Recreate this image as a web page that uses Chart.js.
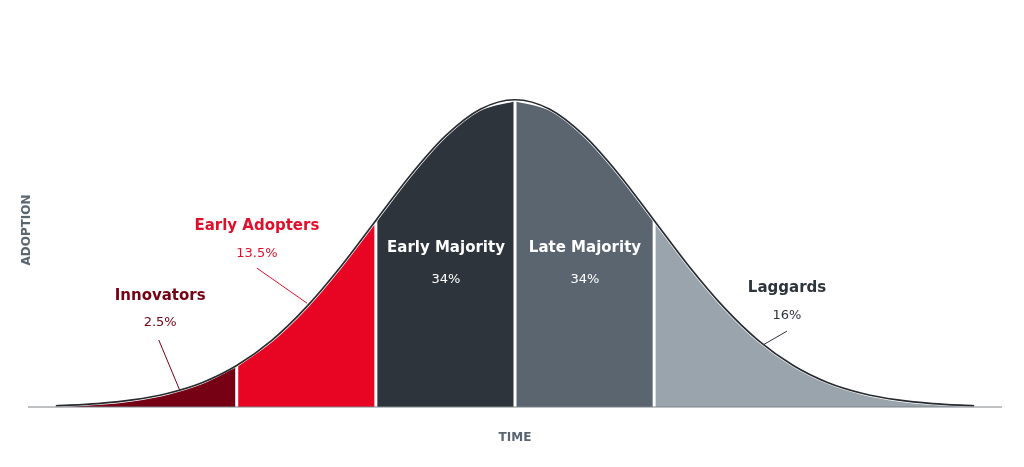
<!DOCTYPE html>
<html>
<head>
<meta charset="utf-8">
<script src="https://cdn.jsdelivr.net/npm/chart.js@4/dist/chart.umd.min.js"></script>
<style>
  html, body { margin: 0; padding: 0; background: #fff; }
  #wrap { width: 1024px; height: 467px; position: relative; }
</style>
</head>
<body>
<div id="wrap"><canvas id="curve"></canvas></div>
<script>
// curve: x in std deviations from the peak, y = relative adoption
const timeSteps = [-3.3, -3, -2.75, -2.5, -2.25, -2, -1.75, -1.5, -1.25, -1, -0.75, -0.5, -0.25, 0,
                   0.25, 0.5, 0.75, 1, 1.25, 1.5, 1.75, 2, 2.25, 2.5, 2.75, 3, 3.3];
const adoption = [0.4, 1.1, 2.3, 4.4, 7.9, 13.5, 21.6, 32.5, 45.8, 60.7, 75.5, 88.2, 96.9, 100,
                  96.9, 88.2, 75.5, 60.7, 45.8, 32.5, 21.6, 13.5, 7.9, 4.4, 2.3, 1.1, 0.4];

const segmentNames = ['Innovators', 'Early Adopters', 'Early Majority', 'Late Majority', 'Laggards'];
const segmentShares = ['2.5%', '13.5%', '34%', '34%', '16%'];
const segmentBounds = [-3.3, -2, -1, 0, 1, 3.3];
const axisRange = [-3.5, 3.5];

const segmentColors = ['#760014', '#e80524', '#2e343c', '#5b6570', '#9aa4ad'];
const labelColors = ['#760014', '#e0102c', '#ffffff', '#ffffff', '#2e343c'];
// label anchors in data units: [x, name y, pct y], plus optional leader line
const labelPos = [
    { x: -2.55, name: 36.1, pct: 27.3, lead: [[-2.56, 21.8], [-2.41, 5.5]] },
    { x: -1.855, name: 58.9, pct: 49.8, lead: [[-1.855, 45.2], [-1.495, 33.8]] },
    { x: -0.496, name: 51.7, pct: 41.3 },
    { x: 0.503, name: 51.7, pct: 41.3 },
    { x: 1.955, name: 38.7, pct: 29.6, lead: [[1.955, 24.7], [1.783, 20.2]] }
];

const points = timeSteps.map((x, i) => ({ x, y: adoption[i] }));
const yAt = x => adoption[timeSteps.indexOf(x)];

const datasets = [];
segmentNames.forEach((name, i) => {
    const lo = segmentBounds[i], hi = segmentBounds[i + 1];
    datasets.push({
        label: name,
        data: points.filter(p => p.x >= lo && p.x <= hi),
        backgroundColor: segmentColors[i],
        borderColor: '#ffffff',
        borderWidth: 3,
        fill: 'origin',
        pointRadius: 0,
        cubicInterpolationMode: 'monotone',
        order: 5
    });
});
// white dividers between segments
segmentBounds.slice(1, -1).forEach(b => {
    datasets.push({
        data: [{ x: b, y: 0 }, { x: b, y: yAt(b) }],
        borderColor: '#ffffff', borderWidth: 3, pointRadius: 0, fill: false, order: 3
    });
});
// outline
datasets.push({
    data: points, borderColor: '#262a2f', borderWidth: 1.7, pointRadius: 0,
    fill: false, cubicInterpolationMode: 'monotone', order: 1
});
// baseline
datasets.push({
    data: [{ x: axisRange[0], y: 0 }, { x: axisRange[1], y: 0 }],
    borderColor: '#7d838a', borderWidth: 1.2, pointRadius: 0, fill: false, order: 0
});
datasets.forEach(d => d.clip = 10);

const labelsPlugin = {
    id: 'segLabels',
    afterDatasetsDraw(chart) {
        const { ctx, scales: { x, y } } = chart;
        ctx.save();
        ctx.textAlign = 'center';
        ctx.textBaseline = 'middle';
        segmentNames.forEach((name, i) => {
            const p = labelPos[i];
            const px = x.getPixelForValue(p.x);
            ctx.fillStyle = labelColors[i];
            ctx.font = 'bold 15px "DejaVu Sans", sans-serif';
            ctx.fillText(name, px, y.getPixelForValue(p.name));
            ctx.font = '13px "DejaVu Sans", sans-serif';
            ctx.fillText(segmentShares[i], px, y.getPixelForValue(p.pct));
            if (p.lead) {
                ctx.strokeStyle = labelColors[i];
                ctx.lineWidth = 1;
                ctx.beginPath();
                ctx.moveTo(x.getPixelForValue(p.lead[0][0]), y.getPixelForValue(p.lead[0][1]));
                ctx.lineTo(x.getPixelForValue(p.lead[1][0]), y.getPixelForValue(p.lead[1][1]));
                ctx.stroke();
            }
        });
        // axis titles
        ctx.fillStyle = '#5b6570';
        ctx.font = 'bold 12px "DejaVu Sans", sans-serif';
        ctx.fillText('TIME', x.getPixelForValue(0), 438);
        ctx.translate(27, 230);
        ctx.rotate(-Math.PI / 2);
        ctx.fillText('ADOPTION', 0, 0);
        ctx.restore();
    }
};

new Chart(document.getElementById('curve').getContext('2d'), {
    type: 'line',
    data: { datasets },
    options: {
        responsive: true, maintainAspectRatio: false, animation: false,
        layout: { padding: { left: 28, right: 22, top: 69, bottom: 60 } },
        plugins: { legend: { display: false }, tooltip: { enabled: false } },
        scales: {
            x: { type: 'linear', min: axisRange[0], max: axisRange[1], display: false },
            y: { min: 0, max: 110, display: false }
        }
    },
    plugins: [labelsPlugin]
});
</script>
</body>
</html>
